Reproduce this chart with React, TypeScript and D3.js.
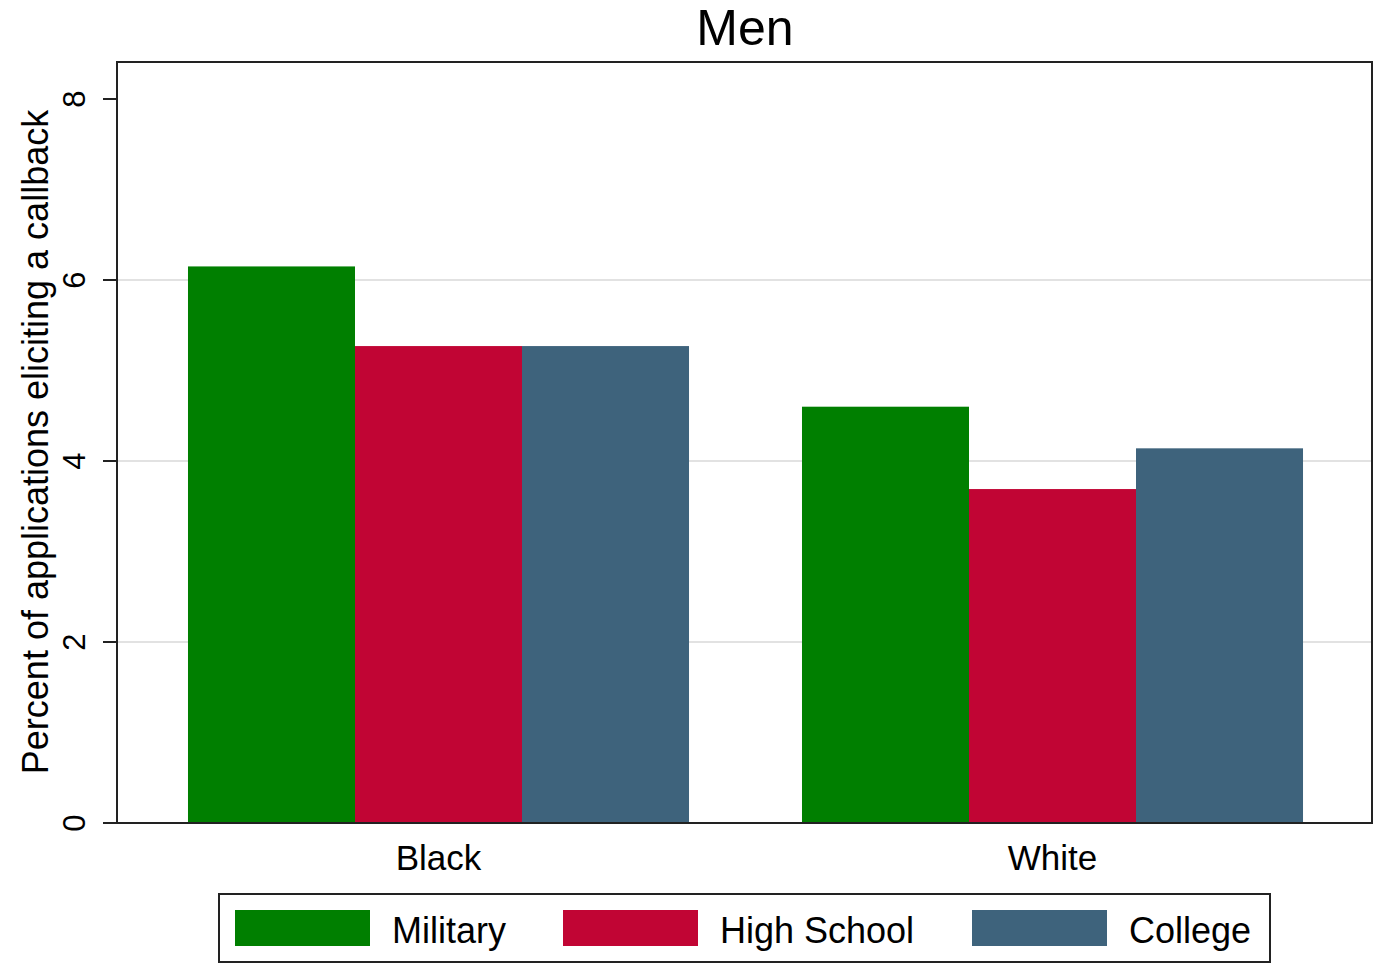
import React from "react";
import * as d3 from "d3";

const categories = ["Black", "White"];
const seriesNames = ["Military", "High School", "College"];
const military = [6.15, 4.6];
const highSchool = [5.27, 3.69];
const college = [5.27, 4.14];
const yTicks = [0, 2, 4, 6, 8];
const colors = ["#007f00", "#c10534", "#3e637c"];

const W = 1383;
const H = 966;
const left = 117, right = 1372, top = 62, bottom = 823;

export default function App() {
  const values = [military, highSchool, college];
  const y = d3.scaleLinear().domain([0, 8]).range([bottom, 99]);
  const x = d3
    .scaleBand<string>()
    .domain(categories)
    .range([131.5, 1359.5])
    .paddingInner(0.184)
    .paddingOuter(0.092);
  const xs = d3.scaleBand<string>().domain(seriesNames).range([0, x.bandwidth()]).padding(0);
  const font = "Liberation Sans, Arial, Helvetica, sans-serif";

  const legendX = [235, 563, 972];

  return (
    <svg width={W} height={H} style={{ position: "absolute", left: 0, top: 0, background: "#fff" }} fontFamily={font}>
      <rect x={0} y={0} width={W} height={H} fill="#fff" />
      <text x={745} y={45} textAnchor="middle" fontSize={50} fill="#000">Men</text>
      {/* gridlines */}
      {yTicks.filter((t) => t > 0 && t < 8).map((t) => (
        <line key={"g" + t} x1={left} x2={right} y1={y(t)} y2={y(t)} stroke="#e2e2e2" strokeWidth={2} />
      ))}
      {/* bars */}
      {categories.map((c, ci) =>
        seriesNames.map((s, si) => (
          <rect
            key={c + s}
            x={(x(c) as number) + (xs(s) as number)}
            y={y(values[si][ci])}
            width={xs.bandwidth()}
            height={bottom - y(values[si][ci])}
            fill={colors[si]}
          />
        ))
      )}
      {/* frame */}
      <rect x={left} y={top} width={right - left} height={bottom - top} fill="none" stroke="#222" strokeWidth={2} />
      {/* y ticks */}
      {yTicks.map((t) => (
        <g key={"t" + t}>
          <line x1={103} x2={left} y1={y(t)} y2={y(t)} stroke="#222" strokeWidth={2} />
          <text
            transform={`translate(85,${y(t)}) rotate(-90)`}
            textAnchor="middle"
            fontSize={31}
            fill="#000"
          >
            {t}
          </text>
        </g>
      ))}
      <text transform={`translate(48,442) rotate(-90)`} textAnchor="middle" fontSize={36} fill="#000">
        Percent of applications eliciting a callback
      </text>
      {/* x labels */}
      {categories.map((c) => (
        <text key={c} x={(x(c) as number) + x.bandwidth() / 2} y={870} textAnchor="middle" fontSize={35} fill="#000">
          {c}
        </text>
      ))}
      {/* legend */}
      <rect x={219} y={894} width={1051} height={68} fill="#fff" stroke="#222" strokeWidth={2} />
      {seriesNames.map((s, i) => (
        <g key={"l" + s}>
          <rect x={legendX[i]} y={910} width={135} height={36} fill={colors[i]} />
          <text x={legendX[i] + 157} y={943} fontSize={36} fill="#000">{s}</text>
        </g>
      ))}
    </svg>
  );
}
